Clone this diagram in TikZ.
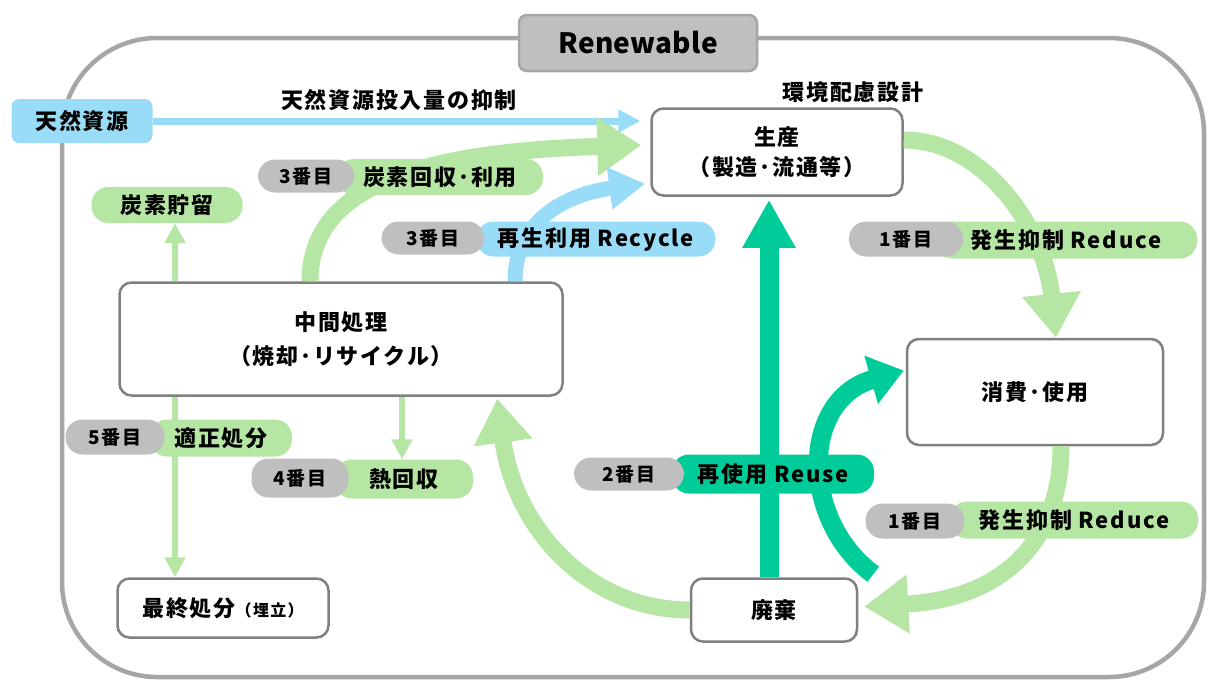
\documentclass[tikz,border=0pt]{standalone}
\usepackage{fontspec}
\setmainfont{Noto Sans CJK JP}[LetterSpace=8]
\usetikzlibrary{arrows.meta}
\definecolor{framegray}{HTML}{A6A6A6}
\definecolor{boxgray}{HTML}{808080}
\definecolor{taggray}{HTML}{BFBFBF}
\definecolor{skyblue}{RGB}{153,220,247}
\definecolor{leafgreen}{RGB}{181,230,163}
\definecolor{reusegreen}{HTML}{00CC99}
\newcommand{\jfs}[2]{\fontsize{#1}{#2}\selectfont\bfseries}

\begin{document}
\begin{tikzpicture}[
		x=1pt, y=-1pt,
		place/.style={draw=boxgray,line width=2.5pt,fill=white,rounded corners=12pt,
		inner sep=0pt,align=center,font=\jfs{22}{30}},
		pill/.style={rounded corners=17pt,inner sep=0pt,font=\jfs{22}{26}},
		tag/.style={pill,fill=taggray,font=\jfs{19}{22}},
		flow/.style={draw=leafgreen,line width=17pt,-{Triangle[length=44pt,width=56pt]}},
		slim/.style={draw=leafgreen,line width=6pt,-{Triangle[length=20pt,width=20pt]}},
		reuse/.style={draw=reusegreen,line width=19pt,-{Triangle[length=48pt,width=50pt]}}
		]
		\useasboundingbox (0,0) rectangle (1208,681);
		\draw[framegray, line width=4.5pt, rounded corners=95pt] (62,38) rectangle (1204,677);
		\node[draw=framegray, fill=taggray, line width=2.5pt, rounded corners=8pt,
			minimum width=238pt, minimum height=56pt,
			font=\jfs{28}{32}\addfontfeature{LetterSpace=1}] (title) at (638,43) {Renewable};

		\node[fill=skyblue, rounded corners=8pt, minimum width=141pt, minimum height=44pt,
			font=\jfs{22}{26}] (src) at (82,121) {天然資源};
		\node[place, minimum width=251pt, minimum height=87pt] (prod) at (777,152)
			{生産\\（製造･流通等）};
		\node[place, minimum width=256pt, minimum height=106pt] (cons) at (1035,392) {消費･使用};
		\node[place, minimum width=166pt, minimum height=63pt] (waste) at (774,610) {廃棄};
		\node[place, minimum width=443pt, minimum height=113pt, font=\jfs{22}{34}] (mid) at (341,339)
			{中間処理\\（焼却･リサイクル）};
		\node[place, minimum width=211pt, minimum height=59pt] (final) at (223,608)
			{最終処分{\jfs{16}{20}（埋立）}};
		\node[pill, fill=leafgreen, minimum width=151pt, minimum height=36pt] (store) at (167,205) {炭素貯留};

		\node[font=\jfs{22}{26}] (limit) at (399,100) {天然資源投入量の抑制};
		\node[font=\jfs{22}{26}] (design) at (853,92) {環境配慮設計};

		\draw[draw=skyblue, line width=7pt, -{Triangle[length=22pt,width=22pt]}, shorten >=10pt]
			(src.east) -- (src.east -| prod.west);
		\draw[flow, shorten >=9pt] (mid.north -| 310,0) .. controls (310,195) and (400,152) ..
			(prod.west |- 0,145);
		\draw[draw=skyblue, line width=15pt, -{Triangle[length=36pt,width=40pt]}, shorten >=5pt]
			(mid.north -| 515,0) .. controls (515,225) and (560,195) .. (prod.west |- 0,183);
		\draw[slim] (mid.north -| 175,0) -- (store.south -| 175,0);
		\draw[slim] (mid.south -| 175,0) -- (final.north -| 175,0);
		\draw[flow] (prod.east |- 0,140) .. controls (985,140) and (1045,230) .. (cons.north -| 1056,0);
		\draw[flow, shorten >=6pt] (cons.south -| 1061,0) .. controls (1061,535) and (1010,598) ..
			(waste.east |- 0,607);
		\draw[flow, shorten >=2pt] (waste.west) .. controls (590,610) and (515,530) .. (mid.south -| 497,0);
		\draw[reuse, shorten >=3pt] (waste.north -| 769,0) -- (prod.south -| 769,0);
		\draw[reuse, -{Triangle[length=34pt,width=48pt]}, shorten >=2pt]
			([xshift=15pt,yshift=3pt]waste.north east) .. controls (800,520) and (800,400) ..
			(cons.west |- 0,370);

		\node[pill, fill=leafgreen, minimum width=206pt, minimum height=36pt] (co2) at (440,177) {炭素回収･利用};
		\node[pill, fill=skyblue, minimum width=239pt, minimum height=35pt] (recycle) at (596,239) {再生利用 Recycle};
		\node[pill, fill=leafgreen, minimum width=262pt, minimum height=37pt] (reduce1) at (1066,240) {発生抑制 Reduce};
		\node[pill, fill=leafgreen, minimum width=248pt, minimum height=37pt] (reduce2) at (1074,520) {発生抑制 Reduce};
		\node[pill, fill=reusegreen, minimum width=202pt, minimum height=39pt] (reuse) at (773,474) {再使用 Reuse};
		\node[pill, fill=leafgreen, minimum width=142pt, minimum height=37pt] (proper) at (221,438) {適正処分};
		\node[pill, fill=leafgreen, minimum width=138pt, minimum height=39pt] (heat) at (404,479) {熱回収};
		\draw[slim] (mid.south -| 402,0) -- (heat.north -| 402,0);

		\node[tag, minimum width=96pt, minimum height=33pt] (t1) at (306,176) {3番目};
		\node[tag, minimum width=103pt, minimum height=33pt] (t2) at (433,238) {3番目};
		\node[tag, minimum width=114pt, minimum height=35pt] (t3) at (906,239) {1番目};
		\node[tag, minimum width=99pt, minimum height=35pt] (t4) at (915,521) {1番目};
		\node[tag, minimum width=110pt, minimum height=33pt] (t5) at (629,474) {2番目};
		\node[tag, minimum width=99pt, minimum height=35pt] (t6) at (115,437) {5番目};
		\node[tag, minimum width=97pt, minimum height=39pt] (t7) at (300,478) {4番目};
	\end{tikzpicture}
\end{document}
